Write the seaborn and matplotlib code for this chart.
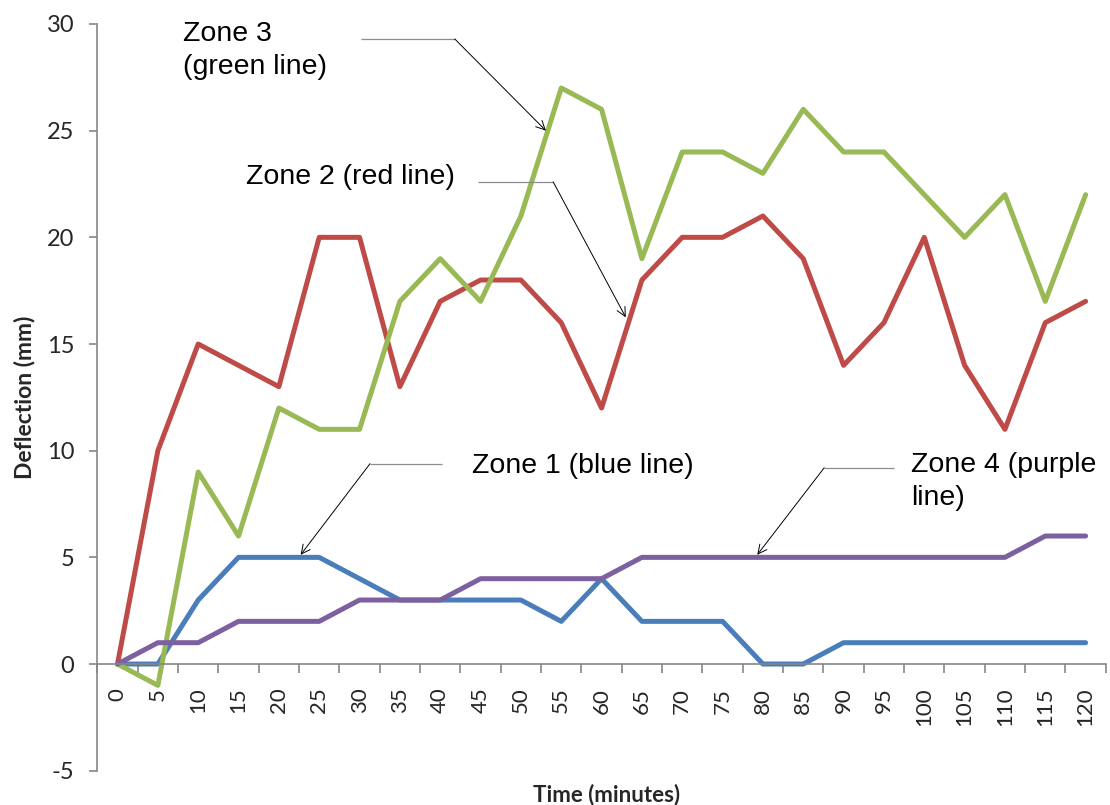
import numpy as np
import pandas as pd
import matplotlib
matplotlib.use("Agg")
import matplotlib.pyplot as plt
from matplotlib.ticker import FixedLocator, NullFormatter
import seaborn as sns

# Measurement times (minutes)
time_min = list(range(0, 125, 5))

# Deflection readings (mm) per zone
zone1 = [0, 0, 3, 5, 5, 5, 4, 3, 3, 3, 3, 2, 4, 2, 2, 2, 0, 0, 1, 1, 1, 1, 1, 1, 1]
zone2 = [0, 10, 15, 14, 13, 20, 20, 13, 17, 18, 18, 16, 12, 18, 20, 20, 21, 19, 14, 16, 20, 14, 11, 16, 17]
zone3 = [0, -1, 9, 6, 12, 11, 11, 17, 19, 17, 21, 27, 26, 19, 24, 24, 23, 26, 24, 24, 22, 20, 22, 17, 22]
zone4 = [0, 1, 1, 2, 2, 2, 3, 3, 3, 4, 4, 4, 4, 5, 5, 5, 5, 5, 5, 5, 5, 5, 5, 6, 6]

zones = ["Zone 1", "Zone 2", "Zone 3", "Zone 4"]
colors = ["#4A7EBB", "#BE4B48", "#98B954", "#7D60A0"]

y_ticks = list(range(-5, 35, 5))

df = pd.concat(
    [pd.DataFrame({"Time": time_min, "Deflection": vals, "Zone": name})
     for name, vals in zip(zones, [zone1, zone2, zone3, zone4])],
    ignore_index=True,
)

sns.set_theme(style="white")
plt.rcParams["font.family"] = ["Liberation Sans", "DejaVu Sans"]

fig = plt.figure(figsize=(11.10, 8.05), dpi=100)
ax = fig.add_axes([0.0877, 0.0426, 0.9085, 0.9276])

sns.lineplot(
    data=df, x="Time", y="Deflection", hue="Zone", hue_order=zones,
    palette=colors, linewidth=3.6, legend=False, ax=ax,
    solid_joinstyle="round", solid_capstyle="round",
)

ax.set_xlim(-2.5, 122.5)
ax.set_ylim(-5, 30)

# Category-style x axis: labels centred on points, tick marks between them
ax.spines["bottom"].set_position(("data", 0))
ax.spines["top"].set_visible(False)
ax.spines["right"].set_visible(False)
for side in ["bottom", "left"]:
    ax.spines[side].set_color("#868686")
    ax.spines[side].set_linewidth(1.2)

ax.set_xticks(time_min)
ax.set_xticklabels([str(t) for t in time_min], rotation=90, va="top", ha="center",
                   family="Lato", fontsize=16)
ax.xaxis.set_minor_locator(FixedLocator(np.arange(-2.5, 125, 5)))
ax.xaxis.set_minor_formatter(NullFormatter())
ax.tick_params(axis="x", which="major", length=0, pad=17)
ax.tick_params(axis="x", which="minor", length=6.5, width=1.2, color="#868686",
               direction="out", bottom=True)

ax.set_yticks(y_ticks)
ax.set_yticklabels([str(v) for v in y_ticks], family="Lato", fontsize=17)
ax.tick_params(axis="y", which="major", length=5.5, width=1.2, color="#868686",
               direction="out", left=True, pad=11)

ax.set_xlabel("Time (minutes)", family="Lato", fontweight="bold", fontsize=16)
ax.xaxis.set_label_coords(0.505, -0.017)
ax.xaxis.label.set_va("top")
ax.set_ylabel("Deflection (mm)", family="Lato", fontweight="bold", fontsize=16.5)
ax.yaxis.set_label_coords(-0.0727, 0.5)
ax.yaxis.label.set_va("center")

# Callouts: text, a grey leader segment, then a thin arrow onto the line
callouts = [
    (["Zone 3", "(green line)"], (8.1, [29.2, 27.65]), (30.2, 29.3), (41.8, 29.3), (53.1, 25.0)),
    (["Zone 2 (red line)"], (15.9, [22.5]), (44.7, 22.6), (54.0, 22.6), (63.0, 16.25)),
    (["Zone 1 (blue line)"], (43.9, [8.95]), (40.2, 9.39), (31.3, 9.39), (22.7, 5.12)),
    (["Zone 4 (purple", "line)"], (98.4, [9.0, 7.45]), (96.3, 9.2), (87.6, 9.2), (79.3, 5.12)),
]
for lines, (tx, tys), start, bend, tip in callouts:
    for line, ty in zip(lines, tys):
        ax.text(tx, ty, line, fontsize=20.5, color="black", ha="left", va="baseline")
    ax.plot([start[0], bend[0]], [start[1], bend[1]], color="#8c8c8c", lw=0.9,
            solid_capstyle="butt")
    ax.annotate("", xy=tip, xytext=bend,
                arrowprops=dict(arrowstyle="->", color="black", lw=0.7,
                                shrinkA=0, shrinkB=0, mutation_scale=16))

fig.savefig("out.png", dpi=100)
